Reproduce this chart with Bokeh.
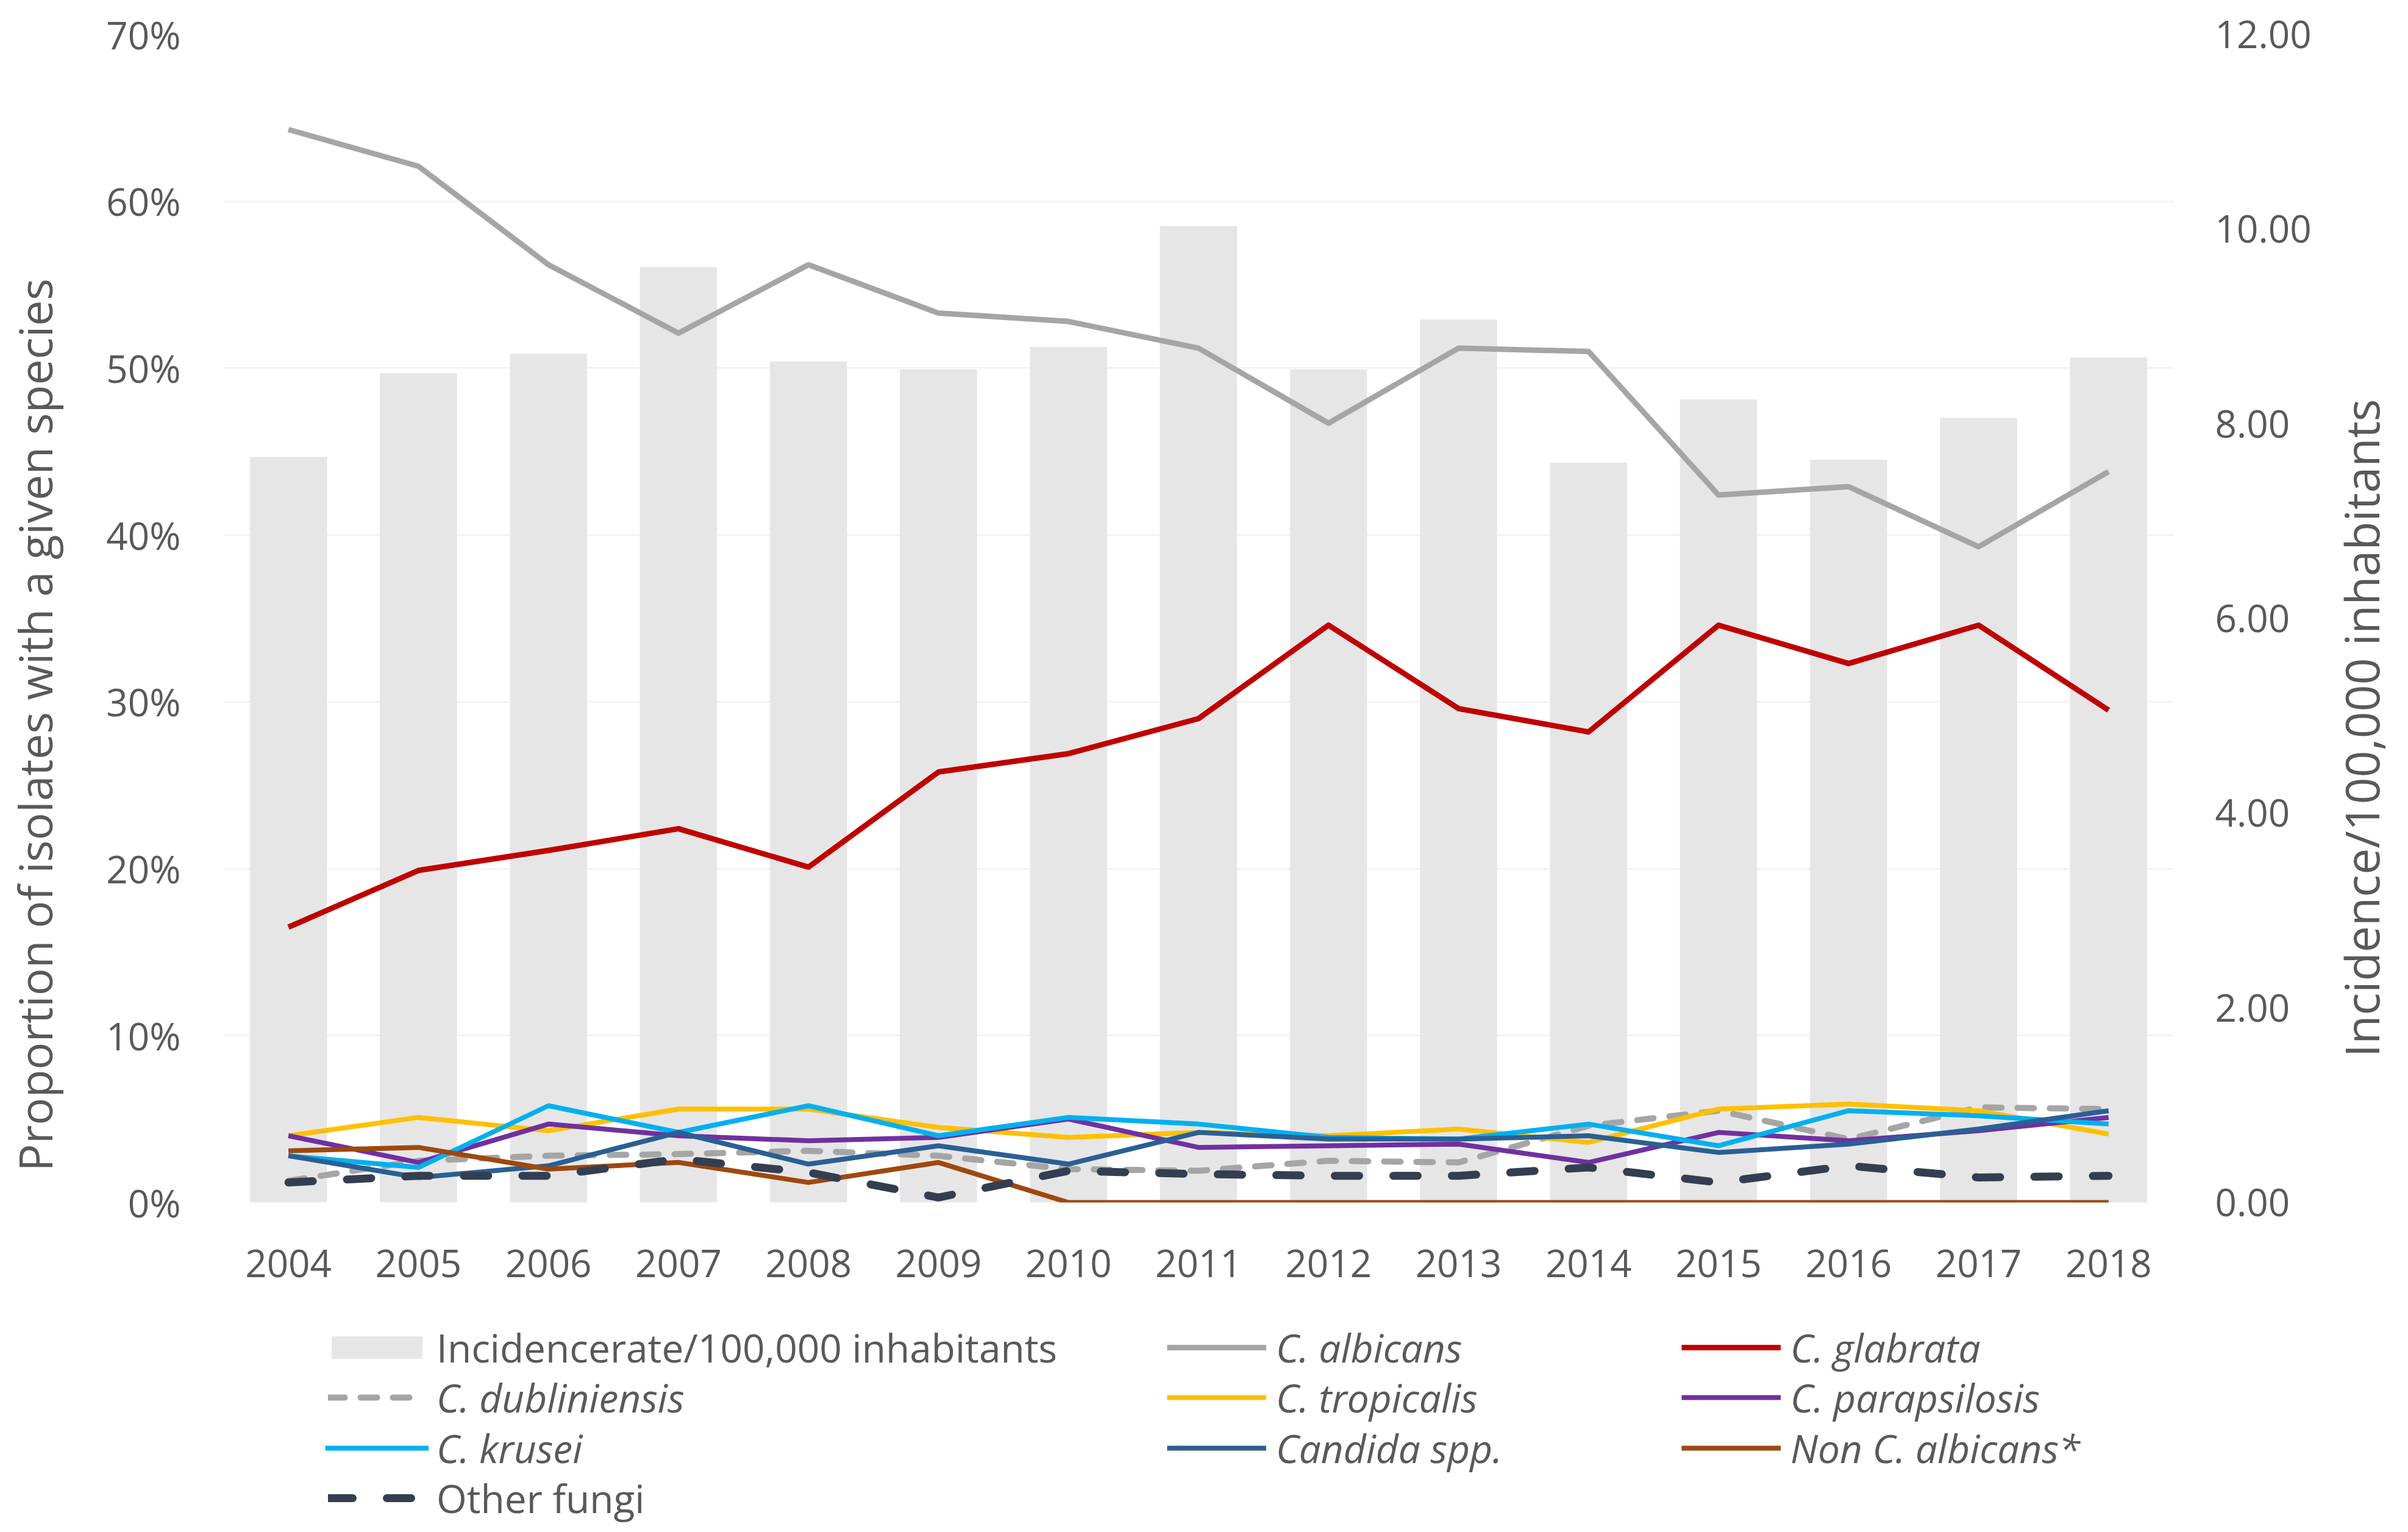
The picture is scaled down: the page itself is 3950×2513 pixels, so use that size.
import math
from bokeh.plotting import figure
from bokeh.layouts import row, column
from bokeh.models import (Range1d, FactorRange, LinearAxis, FixedTicker, PrintfTickFormatter,
                          NumeralTickFormatter, Legend, LegendItem, Label)
from bokeh.embed import file_html
from bokeh.resources import INLINE

# ---------------- data ----------------
years = ["2004", "2005", "2006", "2007", "2008", "2009", "2010", "2011",
         "2012", "2013", "2014", "2015", "2016", "2017", "2018"]

incidence = [7.66, 8.52, 8.72, 9.61, 8.64, 8.56, 8.79, 10.03, 8.56, 9.07, 7.60, 8.25, 7.63, 8.06, 8.68]

c_albicans = [64.3, 62.1, 56.2, 52.1, 56.2, 53.3, 52.8, 51.2, 46.7, 51.2, 51.0, 42.4, 42.9, 39.3, 43.8]
c_glabrata = [16.5, 19.9, 21.1, 22.4, 20.1, 25.8, 26.9, 29.0, 34.6, 29.6, 28.2, 34.6, 32.3, 34.6, 29.5]
c_dubliniensis = [1.3, 2.5, 2.8, 2.9, 3.1, 2.8, 2.0, 1.9, 2.5, 2.4, 4.6, 5.5, 3.8, 5.7, 5.6]
c_tropicalis = [4.0, 5.1, 4.3, 5.6, 5.6, 4.5, 3.9, 4.2, 4.0, 4.4, 3.6, 5.6, 5.9, 5.5, 4.1]
c_parapsilosis = [4.0, 2.4, 4.7, 4.0, 3.7, 3.9, 5.0, 3.3, 3.4, 3.5, 2.4, 4.2, 3.7, 4.3, 5.1]
c_krusei = [2.8, 2.1, 5.8, 4.2, 5.8, 4.0, 5.1, 4.7, 3.9, 3.8, 4.7, 3.4, 5.5, 5.2, 4.7]
candida_spp = [2.8, 1.5, 2.2, 4.2, 2.3, 3.4, 2.3, 4.2, 3.8, 3.8, 4.0, 3.0, 3.5, 4.4, 5.5]
non_c_albicans = [3.1, 3.3, 2.0, 2.4, 1.2, 2.4, 0.0, 0.0, 0.0, 0.0, 0.0, 0.0, 0.0, 0.0, 0.0]
other_fungi = [1.2, 1.6, 1.6, 2.6, 1.8, 0.3, 1.9, 1.7, 1.6, 1.6, 2.1, 1.2, 2.2, 1.5, 1.6]

pct_ticks = [0, 10, 20, 30, 40, 50, 60, 70]
inc_ticks = [0, 2, 4, 6, 8, 10, 12]

left_title = "Proportion of isolates with a given species"
right_title = "Incidence/100,000 inhabitants"

# ---------------- style / layout ----------------
FONT = "Open Sans"
TXT = "#595959"
W, H = 3934, 2503
HP = 2140            # height of the chart row
LFH = H - HP         # height of the legend strip
LW, RW = 112, 140    # side strips holding the axis titles
FL, FR, FT, FB = 366, 3576, 56, 1972   # frame edges on the page

PW = W - LW - RW
p = figure(width=PW, height=HP, x_range=FactorRange(factors=years), y_range=Range1d(0, 70),
           output_backend="svg", toolbar_location=None,
           min_border_left=FL - LW, min_border_right=(W - RW) - FR,
           min_border_top=FT, min_border_bottom=HP - FB)
p.extra_y_ranges = {"inc": Range1d(0, 12)}
p.outline_line_color = None

lt = FixedTicker(ticks=pct_ticks)
p.yaxis[0].ticker = lt
p.yaxis[0].formatter = PrintfTickFormatter(format="%d%%")
p.ygrid[0].ticker = lt
p.ygrid.grid_line_color = "#EFEFEF"
p.ygrid.grid_line_width = 2
p.xgrid.grid_line_color = None

rax = LinearAxis(y_range_name="inc", ticker=FixedTicker(ticks=inc_ticks),
                 formatter=NumeralTickFormatter(format="0.00"))
p.add_layout(rax, "right")

for ax in [p.xaxis[0], p.yaxis[0], rax]:
    ax.axis_line_color = None
    ax.major_tick_line_color = None
    ax.minor_tick_line_color = None
    ax.major_tick_out = 0
    ax.major_tick_in = 0
    ax.major_label_text_font = FONT
    ax.major_label_text_font_size = "62px"
    ax.major_label_text_color = TXT

p.xaxis[0].major_label_standoff = 77
p.yaxis[0].major_label_standoff = 70
rax.major_label_standoff = 68

# ---------------- marks ----------------
r_bar = p.vbar(x=years, top=incidence, width=0.593, y_range_name="inc",
               fill_color="#E6E6E6", line_color=None)

STY = {
    "alb": dict(line_color="#A5A5A5", line_width=9),
    "gla": dict(line_color="#C00000", line_width=9),
    "dub": dict(line_color="#A5A5A5", line_width=10, line_dash="27 26", line_cap="round"),
    "tro": dict(line_color="#FFC000", line_width=8),
    "par": dict(line_color="#7030A0", line_width=8),
    "kru": dict(line_color="#00B0F0", line_width=8),
    "spp": dict(line_color="#2A5F95", line_width=8),
    "non": dict(line_color="#9E480E", line_width=8),
    "oth": dict(line_color="#333F50", line_width=13, line_dash="40 56", line_cap="round"),
}
series = [("alb", c_albicans), ("gla", c_glabrata), ("dub", c_dubliniensis),
          ("tro", c_tropicalis), ("par", c_parapsilosis), ("kru", c_krusei),
          ("spp", candida_spp), ("non", non_c_albicans), ("oth", other_fungi)]
for key, vals in series:
    p.line(x=years, y=vals, line_join="round", **STY[key])

# ---------------- side strips with the axis titles ----------------
def strip(width, height):
    f = figure(width=width, height=height, x_range=Range1d(0, width), y_range=Range1d(0, height),
               x_axis_location=None, y_axis_location=None, min_border=0,
               toolbar_location=None, output_backend="svg")
    f.outline_line_color = None
    f.grid.visible = False
    return f

# titles read bottom-to-top, anchored near their lower end
lfig = strip(LW, HP)
lfig.add_layout(Label(x=56, y=HP - 2083, text=left_title, angle=math.pi / 2,
                      text_align="left", text_baseline="middle", text_font=FONT,
                      text_font_size="75px", text_color=TXT))
rfig = strip(RW, HP)
rfig.add_layout(Label(x=3873 - (W - RW), y=HP - 1874, text=right_title, angle=math.pi / 2,
                      text_align="left", text_baseline="middle", text_font=FONT,
                      text_font_size="77px", text_color=TXT))

# ---------------- legend strip (3 columns x 4 rows) ----------------
lg = strip(W, LFH)
# hidden stand-ins carrying each series' style for the legend swatches
proxy = {k: lg.line(x=[0], y=[0], visible=False, **STY[k]) for k in STY}
proxy["bar"] = lg.vbar(x=[0], top=[0], width=1, fill_color="#E6E6E6", line_color=None,
                       visible=False)

LH = 88
rows_y = [2210, 2292, 2375, 2457]

def add_leg(label, key, x0, r, gw, gh, standoff, italic):
    yc = rows_y[r] - HP
    leg = Legend(items=[LegendItem(label=label, renderers=[proxy[key]])],
                 location=(x0, LFH - (yc + LH / 2)),
                 orientation="vertical", padding=0, margin=0, spacing=0,
                 glyph_width=gw, glyph_height=gh, label_height=LH,
                 label_standoff=standoff,
                 label_text_font=FONT, label_text_font_size="64px",
                 label_text_font_style="italic" if italic else "normal",
                 label_text_color=TXT, label_text_baseline="middle",
                 background_fill_alpha=0, border_line_alpha=0)
    lg.add_layout(leg)

add_leg("Incidencerate/100,000 inhabitants", "bar", 525, 0, 186, 46, 5, False)
add_leg("C. albicans", "alb", 1914, 0, 163, LH, 16, True)
add_leg("C. glabrata", "gla", 2758, 0, 163, LH, 16, True)
add_leg("C. dubliniensis", "dub", 538, 1, 145, LH, 33, True)
add_leg("C. tropicalis", "tro", 1914, 1, 163, LH, 16, True)
add_leg("C. parapsilosis", "par", 2758, 1, 163, LH, 16, True)
add_leg("C. krusei", "kru", 533, 2, 170, LH, 13, True)
add_leg("Candida spp.", "spp", 1914, 2, 163, LH, 16, True)
add_leg("Non C. albicans*", "non", 2758, 2, 163, LH, 16, True)
add_leg("Other fungi", "oth", 538, 3, 145, LH, 33, False)

layout = column(row(lfig, p, rfig), lg)
open("out.html", "w").write(file_html(layout, INLINE))
